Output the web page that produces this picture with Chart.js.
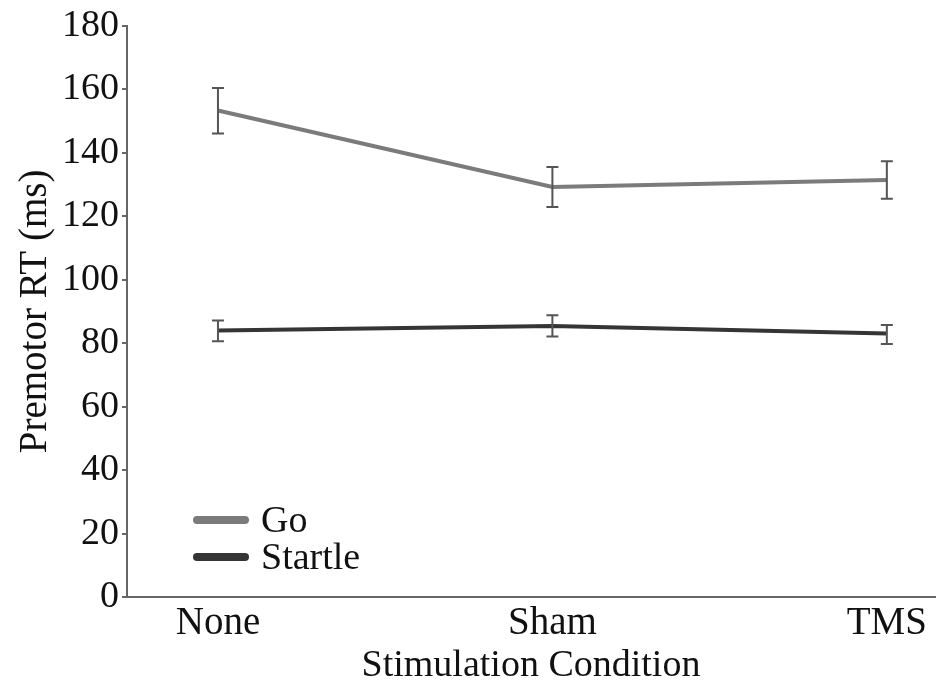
<!DOCTYPE html>
<html>
<head>
<meta charset="utf-8">
<script src="https://cdn.jsdelivr.net/npm/chart.js@4.4.0/dist/chart.umd.min.js"></script>
<style>
  html, body { margin: 0; padding: 0; background: #fff; }
  #wrap { width: 936px; height: 689px; }
</style>
</head>
<body>
<div id="wrap"><canvas id="rtChart"></canvas></div>
<script>
// data
const conditions = ['None', 'Sham', 'TMS'];
const goMeans = [153.3, 129.2, 131.4];
const goUpper = [160.4, 135.5, 137.3];
const goLower = [146.1, 122.9, 125.5];
const startleMeans = [84.0, 85.4, 83.0];
const startleUpper = [87.1, 88.8, 85.7];
const startleLower = [80.6, 82.1, 79.7];
const yTicks = [0, 20, 40, 60, 80, 100, 120, 140, 160, 180];

const serif = '"Liberation Serif", "Times New Roman", serif';

function toPoints(vals) {
    return vals.map((v, i) => ({ x: i, y: v }));
}

// error bars with caps, drawn from the scales
const errorBars = {
    id: 'errorBars',
    afterDatasetsDraw(chart) {
        const ctx = chart.ctx;
        const xs = chart.scales.x, ys = chart.scales.y;
        const sets = [[goUpper, goLower], [startleUpper, startleLower]];
        ctx.save();
        ctx.strokeStyle = '#555';
        ctx.lineWidth = 2;
        sets.forEach(([up, lo]) => {
            up.forEach((u, i) => {
                const x = xs.getPixelForValue(i);
                const y1 = ys.getPixelForValue(u);
                const y2 = ys.getPixelForValue(lo[i]);
                ctx.beginPath();
                ctx.moveTo(x, y1); ctx.lineTo(x, y2);
                ctx.moveTo(x - 6, y1); ctx.lineTo(x + 6, y1);
                ctx.moveTo(x - 6, y2); ctx.lineTo(x + 6, y2);
                ctx.stroke();
            });
        });
        ctx.restore();
    }
};

// legend inside the plot, lower left
const insideLegend = {
    id: 'insideLegend',
    afterDraw(chart) {
        const ctx = chart.ctx;
        ctx.save();
        ctx.font = '38px ' + serif;
        ctx.textBaseline = 'middle';
        ctx.lineCap = 'round';
        chart.data.datasets.forEach((ds, i) => {
            const y = 520 + i * 37;
            ctx.strokeStyle = ds.borderColor;
            ctx.lineWidth = 8;
            ctx.beginPath();
            ctx.moveTo(197, y);
            ctx.lineTo(245, y);
            ctx.stroke();
            ctx.fillStyle = '#111';
            ctx.fillText(ds.label, 261, y + 2);
        });
        ctx.restore();
    }
};

new Chart(document.getElementById('rtChart'), {
    type: 'line',
    data: {
        datasets: [
            {
                label: 'Go',
                data: toPoints(goMeans),
                borderColor: '#7b7b7b',
                borderWidth: 4,
                pointRadius: 0,
                tension: 0
            },
            {
                label: 'Startle',
                data: toPoints(startleMeans),
                borderColor: '#353535',
                borderWidth: 4,
                pointRadius: 0,
                tension: 0
            }
        ]
    },
    options: {
        responsive: true,
        maintainAspectRatio: false,
        animation: false,
        layout: { padding: { top: 5, right: 1, left: 12, bottom: 0 } },
        plugins: {
            legend: { display: false },
            tooltip: { enabled: false }
        },
        scales: {
            x: {
                type: 'linear',
                min: -0.272,
                max: 2.144,
                afterBuildTicks: (scale) => {
                    scale.ticks = conditions.map((c, i) => ({ value: i }));
                },
                afterFit: (scale) => { scale.height = 92; },
                ticks: {
                    callback: (v) => conditions[v],
                    font: { family: serif, size: 39 },
                    color: '#111',
                    padding: 3,
                    maxRotation: 0
                },
                grid: { display: false, drawTicks: false },
                border: { display: true, color: '#666', width: 2 },
                title: {
                    display: true,
                    text: 'Stimulation Condition',
                    font: { family: serif, size: 38 },
                    color: '#111',
                    padding: { top: 0, bottom: 0 }
                }
            },
            y: {
                min: 0,
                max: 180,
                afterBuildTicks: (scale) => {
                    scale.ticks = yTicks.map(v => ({ value: v }));
                },
                afterFit: (scale) => { scale.width = 115; },
                ticks: {
                    font: { family: serif, size: 38 },
                    color: '#111',
                    padding: 3
                },
                grid: {
                    drawOnChartArea: false,
                    drawTicks: true,
                    tickLength: 5,
                    color: '#666',
                    lineWidth: 2
                },
                border: { display: true, color: '#666', width: 2 },
                title: {
                    display: true,
                    text: 'Premotor RT (ms)',
                    font: { family: serif, size: 39 },
                    color: '#111',
                    padding: { top: 0, bottom: 4 }
                }
            }
        }
    },
    plugins: [errorBars, insideLegend]
});
</script>
</body>
</html>
